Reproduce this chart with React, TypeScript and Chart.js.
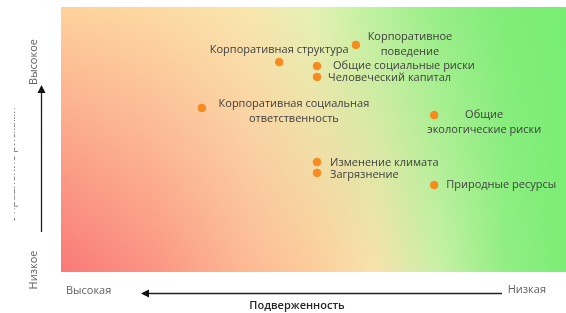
import React, { useEffect, useRef } from "react";
import { Chart, registerables } from "chart.js";

Chart.register(...registerables);

// ---- data ----
const riskNames: string[][] = [
  ["Корпоративное", "поведение"],
  ["Корпоративная структура"],
  ["Общие социальные риски"],
  ["Человеческий капитал"],
  ["Корпоративная социальная", "ответственность"],
  ["Общие", "экологические риски"],
  ["Изменение климата"],
  ["Загрязнение"],
  ["Природные ресурсы"],
];
const exposureValues: number[] = [5.84, 4.32, 5.07, 5.07, 2.79, 7.39, 5.07, 5.07, 7.39];
const levelValues: number[] = [8.57, 7.92, 7.77, 7.36, 6.19, 5.92, 4.15, 3.74, 3.28];

const xAxisLabels = ["Высокая", "Низкая"];
const xAxisTitle = "Подверженность";
const yAxisLabels = ["Низкое", "Высокое"];
const yAxisTitle = "Управление рисками";

// ---- label layout (offsets from point, in px) ----
const labelLayout: { dx: number; dy: number; align: CanvasTextAlign }[] = [
  { dx: 54, dy: -1, align: "center" },
  { dx: 0, dy: -12, align: "center" },
  { dx: 16, dy: 0, align: "left" },
  { dx: 11, dy: 1, align: "left" },
  { dx: 92, dy: 3, align: "center" },
  { dx: 50, dy: 7, align: "center" },
  { dx: 13, dy: 1, align: "left" },
  { dx: 13, dy: 2, align: "left" },
  { dx: 12, dy: 0, align: "left" },
];

const FONT = "'Open Sans', 'Noto Sans', sans-serif";

const stopPos = [0, 0.18, 0.37, 0.5, 0.62, 0.75, 0.88, 1.0];
const topColors = ["#fdd29c", "#fdd9a2", "#f9e6ae", "#e4f2b2", "#bcf1a0", "#96ee86", "#80ed78", "#78ed74"];
const bottomColors = ["#f97878", "#fb9383", "#fcb994", "#fdcc9c", "#f9e1ac", "#c8f0a6", "#92ee84", "#7ced76"];

function hexToRgb(h: string) {
  const n = parseInt(h.slice(1), 16);
  return [(n >> 16) & 255, (n >> 8) & 255, n & 255];
}
function lerpColor(a: string, b: string, t: number) {
  const ca = hexToRgb(a);
  const cb = hexToRgb(b);
  const c = ca.map((v, i) => Math.round(v + (cb[i] - v) * t));
  return `rgb(${c[0]},${c[1]},${c[2]})`;
}

const bgPlugin = {
  id: "bgGradient",
  beforeDraw(chart: any) {
    const { ctx, chartArea } = chart;
    const { left, right, top, bottom } = chartArea;
    const h = bottom - top;
    ctx.save();
    for (let y = Math.floor(top); y < bottom; y++) {
      const t = (y - top) / h;
      const g = ctx.createLinearGradient(left, 0, right, 0);
      stopPos.forEach((p, i) => g.addColorStop(p, lerpColor(topColors[i], bottomColors[i], t)));
      ctx.fillStyle = g;
      ctx.fillRect(left, y, right - left, 1);
    }
    ctx.restore();
  },
};

const labelPlugin = {
  id: "pointLabels",
  afterDatasetsDraw(chart: any) {
    const { ctx } = chart;
    const meta = chart.getDatasetMeta(0);
    ctx.save();
    ctx.font = `11px ${FONT}`;
    ctx.fillStyle = "#404040";
    ctx.textBaseline = "middle";
    meta.data.forEach((el: any, i: number) => {
      const lines = riskNames[i];
      const lay = labelLayout[i];
      ctx.textAlign = lay.align;
      const lh = 15;
      const startY = el.y + lay.dy - ((lines.length - 1) * lh) / 2;
      lines.forEach((ln, k) => {
        ctx.fillText(ln, el.x + lay.dx, startY + k * lh);
      });
    });
    ctx.restore();
  },
};

function arrowHead(ctx: CanvasRenderingContext2D, x: number, y: number, dir: "left" | "up") {
  ctx.beginPath();
  if (dir === "left") {
    ctx.moveTo(x, y);
    ctx.lineTo(x + 8, y - 4);
    ctx.lineTo(x + 8, y + 4);
  } else {
    ctx.moveTo(x, y);
    ctx.lineTo(x - 4, y + 8);
    ctx.lineTo(x + 4, y + 8);
  }
  ctx.closePath();
  ctx.fill();
}

const axisPlugin = {
  id: "axisDecor",
  afterDraw(chart: any) {
    const { ctx, chartArea } = chart;
    const { left, right, bottom } = chartArea;
    ctx.save();
    // x axis labels
    ctx.font = `11px ${FONT}`;
    ctx.fillStyle = "#606060";
    ctx.textBaseline = "middle";
    ctx.textAlign = "left";
    ctx.fillText(xAxisLabels[0], left + 5, bottom + 19);
    ctx.textAlign = "right";
    ctx.fillText(xAxisLabels[1], right - 20, bottom + 18);
    // x arrow
    ctx.strokeStyle = "#222";
    ctx.fillStyle = "#111";
    ctx.lineWidth = 1.3;
    ctx.beginPath();
    ctx.moveTo(148, bottom + 21.5);
    ctx.lineTo(502, bottom + 21.5);
    ctx.stroke();
    arrowHead(ctx, 141, bottom + 21.5, "left");
    // x title
    ctx.font = `600 11px ${FONT}`;
    ctx.fillStyle = "#262626";
    ctx.textAlign = "center";
    ctx.fillText(xAxisTitle, 297, bottom + 34);

    // y labels
    ctx.font = `11px ${FONT}`;
    ctx.fillStyle = "#606060";
    ctx.textAlign = "center";
    ctx.save();
    ctx.translate(34, 62);
    ctx.rotate(-Math.PI / 2);
    ctx.fillText(yAxisLabels[1], 0, 0);
    ctx.restore();
    ctx.save();
    ctx.translate(34, 270);
    ctx.rotate(-Math.PI / 2);
    ctx.fillText(yAxisLabels[0], 0, 0);
    ctx.restore();
    // y arrow
    ctx.strokeStyle = "#222";
    ctx.fillStyle = "#111";
    ctx.beginPath();
    ctx.moveTo(41.5, 232);
    ctx.lineTo(41.5, 92);
    ctx.stroke();
    arrowHead(ctx, 41.5, 85, "up");
    // y title (clipped at the left edge)
    ctx.save();
    ctx.beginPath();
    ctx.rect(14, 0, 20, chart.height);
    ctx.clip();
    ctx.font = `11px ${FONT}`;
    ctx.fillStyle = "#666";
    ctx.textAlign = "center";
    ctx.textBaseline = "alphabetic";
    ctx.translate(14.8, 164);
    ctx.rotate(-Math.PI / 2);
    ctx.fillText(yAxisTitle, 0, 0);
    ctx.restore();
    ctx.restore();
  },
};

export default function App() {
  const ref = useRef<HTMLCanvasElement | null>(null);
  useEffect(() => {
    document.body.style.margin = "0";
    if (!ref.current) return;
    const chart = new Chart(ref.current, {
      type: "scatter",
      data: {
        datasets: [
          {
            data: exposureValues.map((x, i) => ({ x, y: levelValues[i] })),
            backgroundColor: "#f78b1f",
            borderColor: "#f78b1f",
            pointRadius: 3.8,
            pointHoverRadius: 3.8,
          },
        ],
      },
      options: {
        animation: false,
        responsive: false,
        maintainAspectRatio: false,
        layout: { autoPadding: false, padding: { left: 61, right: 0, top: 7, bottom: 41 } },
        plugins: { legend: { display: false }, tooltip: { enabled: false } },
        scales: {
          x: { type: "linear", min: 0, max: 10, display: false },
          y: { type: "linear", min: 0, max: 10, display: false },
        },
      },
      plugins: [bgPlugin, labelPlugin, axisPlugin],
    });
    return () => chart.destroy();
  }, []);
  return (
    <div style={{ width: 566, height: 313, background: "#fff" }}>
      <canvas ref={ref} width={566} height={313} style={{ display: "block" }} />
    </div>
  );
}
